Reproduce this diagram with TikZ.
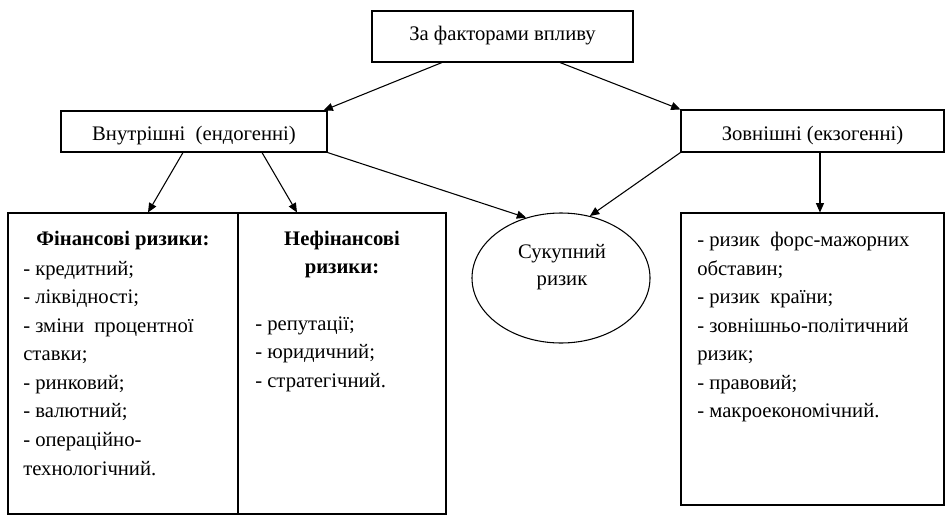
\documentclass[tikz,border=0pt]{standalone}
\usepackage{fontspec}
\setmainfont{Liberation Serif}
\usetikzlibrary{arrows.meta,shapes.geometric,fit}
\newcommand\firstln{\rule{0pt}{15pt}}
\tikzset{
  box/.style={draw, line width=0.8pt, inner sep=0pt},
  arr/.style={draw, line width=0.8pt, -{Triangle[length=7pt,width=6pt]}},
  txt/.style={inner sep=0pt, font=\fontsize{15.5}{21.4}\selectfont},
  bld/.style={txt, anchor=base, font=\fontsize{15.5}{21.4}\selectfont\bfseries},
  lst/.style={txt, anchor=north west, align=left},
}
\begin{document}
\begin{tikzpicture}[x=0.75pt,y=-0.75pt]
\useasboundingbox (0,0) rectangle (945,517);
% boxes
\node[box, fit={(372,11) (633,62)}] (top) {};
\node[box, fit={(61,111) (327,152)}] (in) {};
\node[box, fit={(681,110) (944,152)}] (ex) {};
\node[box, fit={(8,213) (238,514)}] (fin) {};
\node[box, fit={(238,213) (446,514)}] (nefin) {};
\node[box, fit={(681,213) (944,505)}] (rb) {};
\node[draw, ellipse, line width=0.8pt, minimum width=133.5pt, minimum height=97.5pt, inner sep=0pt] (ell) at (561,278) {};
% texts
\node[txt, anchor=base] (toptxt) at (502.5,41) {За факторами впливу};
\node[txt, anchor=base] (intxt) at (194,140.5) {Внутрішні\ \ (ендогенні)};
\node[txt, anchor=base] (extxt) at (812.5,140.5) {Зовнішні (екзогенні)};
\node[bld] (fintitle) at (123,245) {Фінансові ризики:};
\node[lst] (finlist) at (23,255) {\firstln- кредитний;\\
- ліквідності;\\
\makebox[120pt][l]{-\kern0.25em зміни\ \hfill\ процентної}\\
ставки;\\
- ринковий;\\
- валютний;\\
- операційно-\\
технологічний.};
\node[bld] (nefintitleA) at (342,245) {Нефінансові};
\node[bld] (nefintitleB) at (342,273) {ризики:};
\node[lst] (nefinlist) at (255,310) {\firstln- репутації;\\
- юридичний;\\
- стратегічний.};
\node[txt, anchor=base] (elltxtA) at (562,258) {Сукупний};
\node[txt, anchor=base] (elltxtB) at (562,285) {ризик};
\node[lst] (rblist) at (697,226.5) {\firstln\makebox[153.75pt][l]{-\kern0.25em ризик\ \hfill\ форс-мажорних}\\
обставин;\\
- ризик\ \ країни;\\
- зовнішньо-політичний\\
ризик;\\
- правовий;\\
- макроекономічний.};
% arrows
\draw[arr] ([xshift=-45.4pt]top.south) -- ([xshift=-3pt]in.north east);
\draw[arr] ([xshift=43.1pt]top.south) -- (ex.north west);
\draw[arr] ([xshift=-8.25pt]in.south) -- ([xshift=18.75pt]fin.north);
\draw[arr] ([xshift=51pt]in.south) -- ([xshift=-33.75pt]nefin.north);
\draw[arr] (in.south east) -- (ell.120);
\draw[arr] (ex.south west) -- (ell.65);
\draw[arr] ([xshift=5.6pt]ex.south) -- ([xshift=5.6pt]rb.north);
\end{tikzpicture}
\end{document}
